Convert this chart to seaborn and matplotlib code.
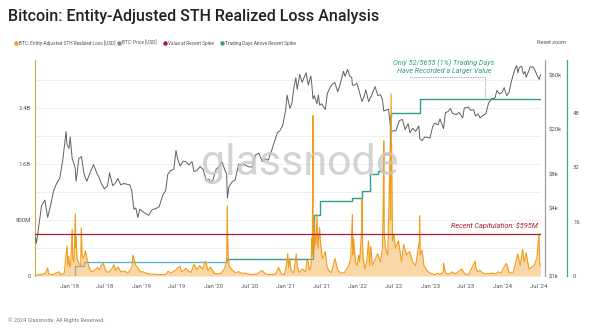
import matplotlib
matplotlib.use("Agg")
import matplotlib.pyplot as plt
import matplotlib.ticker as mticker
import pandas as pd
import seaborn as sns

sns.set_theme(style="white")
plt.rcParams["font.family"] = ["Roboto", "DejaVu Sans"]

# ---------------- data ----------------
price_dates = [
    "2017-07-15", "2017-07-20", "2017-08-01", "2017-08-15", "2017-09-01", "2017-09-15", "2017-10-01", "2017-10-15",
    "2017-11-01", "2017-11-15", "2017-12-01", "2017-12-17", "2017-12-22", "2018-01-01", "2018-01-07", "2018-01-17",
    "2018-02-01", "2018-02-06", "2018-02-20", "2018-03-05", "2018-03-18", "2018-04-01", "2018-04-15", "2018-05-05",
    "2018-05-20", "2018-06-01", "2018-06-15", "2018-06-29", "2018-07-15", "2018-07-25", "2018-08-10", "2018-08-25",
    "2018-09-05", "2018-09-20", "2018-10-05", "2018-10-20", "2018-11-05", "2018-11-15", "2018-11-25", "2018-12-05",
    "2018-12-15", "2018-12-25",
    "2019-01-10", "2019-01-25", "2019-02-08", "2019-02-25", "2019-03-15", "2019-04-02", "2019-04-20", "2019-05-05",
    "2019-05-15", "2019-05-30", "2019-06-15", "2019-06-26", "2019-07-05", "2019-07-17", "2019-08-01", "2019-08-15",
    "2019-08-30", "2019-09-15", "2019-09-25", "2019-10-10", "2019-10-26", "2019-11-10", "2019-11-25", "2019-12-10",
    "2019-12-18", "2019-12-31",
    "2020-01-15", "2020-02-01", "2020-02-13", "2020-02-28", "2020-03-08", "2020-03-12", "2020-03-20", "2020-04-05",
    "2020-04-20", "2020-05-08", "2020-05-20", "2020-06-05", "2020-06-25", "2020-07-15", "2020-08-01", "2020-08-18",
    "2020-09-05", "2020-09-20", "2020-10-05", "2020-10-21", "2020-11-05", "2020-11-20", "2020-12-01", "2020-12-16",
    "2020-12-31",
    "2021-01-08", "2021-01-22", "2021-02-01", "2021-02-10", "2021-02-21", "2021-02-28", "2021-03-13", "2021-03-25",
    "2021-04-14", "2021-04-25", "2021-05-08", "2021-05-13", "2021-05-19", "2021-05-26", "2021-06-08", "2021-06-15",
    "2021-06-22", "2021-07-01", "2021-07-20", "2021-07-31", "2021-08-14", "2021-08-22", "2021-09-06", "2021-09-21",
    "2021-10-01", "2021-10-20", "2021-10-28", "2021-11-10", "2021-11-20", "2021-12-01", "2021-12-04", "2021-12-15",
    "2021-12-27",
    "2022-01-10", "2022-01-22", "2022-02-01", "2022-02-10", "2022-02-24", "2022-03-10", "2022-03-29", "2022-04-12",
    "2022-04-25", "2022-05-05", "2022-05-12", "2022-05-25", "2022-06-05", "2022-06-18", "2022-06-30", "2022-07-12",
    "2022-07-30", "2022-08-14", "2022-08-28", "2022-09-12", "2022-09-21", "2022-10-05", "2022-10-20", "2022-11-05",
    "2022-11-10", "2022-11-21", "2022-12-05", "2022-12-20", "2022-12-31",
    "2023-01-14", "2023-01-25", "2023-02-10", "2023-02-20", "2023-03-10", "2023-03-20", "2023-04-01", "2023-04-14",
    "2023-04-25", "2023-05-12", "2023-05-28", "2023-06-15", "2023-06-23", "2023-07-13", "2023-07-25", "2023-08-10",
    "2023-08-18", "2023-09-01", "2023-09-11", "2023-09-25", "2023-10-10", "2023-10-24", "2023-11-10", "2023-11-25",
    "2023-12-05", "2023-12-18", "2023-12-31",
    "2024-01-11", "2024-01-23", "2024-02-05", "2024-02-15", "2024-02-28", "2024-03-05", "2024-03-14", "2024-03-20",
    "2024-03-27", "2024-04-08", "2024-04-17", "2024-04-25", "2024-05-01", "2024-05-15", "2024-05-21", "2024-06-05",
    "2024-06-15", "2024-06-24", "2024-07-05", "2024-07-14",
]
price_vals = [
    2200, 1950, 2750, 4200, 4700, 3300, 4300, 5700,
    6700, 7300, 10800, 19000, 14500, 13500, 17000, 11000,
    9100, 6900, 11000, 11400, 8000, 6900, 8000, 9700,
    8300, 7500, 6500, 5900, 6300, 8200, 6300, 6700,
    7300, 6400, 6600, 6500, 6400, 5600, 3900, 4000,
    3300, 3900,
    3700, 3550, 3450, 3850, 3950, 4100, 5200, 5700,
    7900, 8600, 8800, 12900, 10800, 9400, 10400, 10300,
    9600, 10300, 8400, 8600, 9300, 8800, 7100, 7200,
    6700, 7200,
    8800, 9400, 10300, 8700, 8000, 4900, 6200, 6800,
    7100, 9800, 9500, 9700, 9300, 9200, 11800, 12200,
    10300, 10900, 10600, 12800, 15500, 18600, 19200, 21300,
    29000,
    40000, 30500, 33500, 44800, 57000, 45000, 61000, 52000,
    63000, 49000, 58800, 49500, 37000, 39500, 33500, 40100,
    32500, 33500, 29800, 41500, 47000, 49300, 51700, 42800,
    48200, 65000, 58500, 67500, 59000, 57000, 49000, 48900,
    51000,
    41800, 35000, 38700, 44500, 35000, 39300, 47500, 39500,
    40400, 36500, 28900, 29500, 29900, 19000, 19300, 19300,
    23800, 24300, 19800, 22300, 18500, 20300, 19100, 21300,
    16500, 15800, 17000, 16900, 16600,
    20900, 22600, 21800, 24600, 20200, 28000, 28500, 30400,
    27500, 26800, 28000, 25100, 30700, 31400, 29300, 29600,
    26100, 27200, 25100, 26300, 27400, 34000, 37300, 37500,
    44000, 41000, 42300,
    46500, 39500, 42600, 52000, 62400, 68000, 73000, 63000,
    70000, 72000, 61300, 64500, 57500, 66200, 71000, 71000,
    66000, 60500, 55000, 60800,
]

loss_dates = [
    "2017-07-15", "2017-08-01", "2017-08-20", "2017-09-05", "2017-09-15", "2017-09-20", "2017-10-10", "2017-11-12",
    "2017-11-20", "2017-12-08", "2017-12-22", "2017-12-26", "2017-12-30",
    "2018-01-05", "2018-01-10", "2018-01-17", "2018-01-20", "2018-01-26", "2018-02-02", "2018-02-04", "2018-02-06",
    "2018-02-10", "2018-02-20", "2018-03-01", "2018-03-04", "2018-03-08", "2018-03-15", "2018-03-25", "2018-04-05",
    "2018-04-15", "2018-04-25", "2018-05-10", "2018-05-25", "2018-06-05", "2018-06-12", "2018-06-24", "2018-07-05",
    "2018-07-20", "2018-08-10", "2018-08-15", "2018-08-25", "2018-09-06", "2018-09-20", "2018-10-10", "2018-10-25",
    "2018-11-15", "2018-11-20", "2018-11-25", "2018-12-05", "2018-12-15", "2018-12-28",
    "2019-01-10", "2019-01-25", "2019-02-10", "2019-03-01", "2019-03-20", "2019-04-10", "2019-05-05", "2019-05-17",
    "2019-06-01", "2019-06-27", "2019-07-02", "2019-07-16", "2019-07-25", "2019-08-05", "2019-08-15", "2019-08-29",
    "2019-09-10", "2019-09-25", "2019-10-10", "2019-10-23", "2019-11-08", "2019-11-22", "2019-12-05", "2019-12-18",
    "2020-01-05", "2020-01-20", "2020-02-10", "2020-02-27", "2020-03-08", "2020-03-12", "2020-03-13", "2020-03-16",
    "2020-03-20", "2020-04-01", "2020-04-20", "2020-05-10", "2020-05-20", "2020-06-10", "2020-07-01", "2020-07-20",
    "2020-08-10", "2020-09-03", "2020-09-20", "2020-10-10", "2020-11-10", "2020-11-26", "2020-12-10", "2020-12-25",
    "2021-01-04", "2021-01-11", "2021-01-15", "2021-01-21", "2021-01-28", "2021-02-10", "2021-02-23", "2021-02-28",
    "2021-03-10", "2021-03-25", "2021-04-12", "2021-04-18", "2021-04-25", "2021-05-01", "2021-05-10", "2021-05-12",
    "2021-05-15", "2021-05-19", "2021-05-20", "2021-05-23", "2021-05-25", "2021-05-28", "2021-06-03", "2021-06-08",
    "2021-06-13", "2021-06-21", "2021-06-27", "2021-07-05", "2021-07-15", "2021-07-20", "2021-07-28", "2021-08-05",
    "2021-08-20", "2021-09-07", "2021-09-20", "2021-10-05", "2021-10-25", "2021-11-16", "2021-11-26", "2021-12-04",
    "2021-12-06", "2021-12-10", "2021-12-20", "2021-12-28",
    "2022-01-05", "2022-01-10", "2022-01-21", "2022-01-22", "2022-01-24", "2022-01-28", "2022-02-05", "2022-02-14",
    "2022-02-24", "2022-03-01", "2022-03-07", "2022-03-15", "2022-04-11", "2022-04-25", "2022-05-05", "2022-05-09",
    "2022-05-12", "2022-05-14", "2022-05-20", "2022-06-01", "2022-06-13", "2022-06-15", "2022-06-18", "2022-06-25",
    "2022-07-01", "2022-07-10", "2022-07-25", "2022-08-10", "2022-08-20", "2022-09-05", "2022-09-20", "2022-10-05",
    "2022-10-20", "2022-11-08", "2022-11-09", "2022-11-12", "2022-11-21", "2022-12-01", "2022-12-15", "2022-12-28",
    "2023-01-10", "2023-01-25", "2023-02-10", "2023-02-20", "2023-03-09", "2023-03-10", "2023-03-20", "2023-04-10",
    "2023-04-20", "2023-05-10", "2023-06-10", "2023-06-25", "2023-07-15", "2023-08-17", "2023-08-20", "2023-08-30",
    "2023-09-10", "2023-09-25", "2023-10-15", "2023-11-10", "2023-12-01", "2023-12-10", "2023-12-25",
    "2024-01-12", "2024-01-22", "2024-02-05", "2024-02-25", "2024-03-19", "2024-04-01", "2024-04-13", "2024-04-20",
    "2024-05-01", "2024-05-15", "2024-06-10", "2024-06-24", "2024-07-05", "2024-07-08", "2024-07-12",
]
loss_vals = [  # USD millions
    10, 20, 25, 40, 115, 30, 20, 60,
    20, 40, 430, 150, 280,
    120, 200, 670, 250, 200, 890, 400, 560,
    250, 180, 150, 690, 300, 250, 360, 200,
    100, 60, 80, 120, 90, 150, 180, 80,
    50, 120, 160, 80, 130, 60, 70, 40,
    120, 300, 250, 150, 120, 60,
    60, 40, 30, 25, 20, 20, 20, 70,
    40, 90, 110, 140, 60, 80, 110, 70,
    50, 170, 90, 150, 100, 215, 80, 130,
    40, 30, 40, 110, 220, 1000, 600, 300,
    150, 100, 50, 60, 40, 40, 25, 20,
    30, 80, 30, 20, 25, 120, 30, 20,
    150, 320, 120, 250, 80, 40, 315, 150,
    50, 100, 60, 230, 200, 80, 150, 540,
    300, 2290, 500, 790, 400, 600, 450, 880,
    400, 690, 450, 250, 300, 350, 150, 80,
    50, 250, 100, 40, 50, 150, 250, 880,
    300, 540, 200, 150,
    300, 200, 700, 1100, 500, 250, 100, 200,
    500, 150, 420, 150, 320, 200, 400, 1000,
    1930, 600, 400, 300, 1800, 800, 2600, 500,
    600, 400, 500, 200, 450, 300, 350, 200,
    150, 500, 860, 300, 370, 150, 80, 50,
    30, 20, 40, 20, 60, 185, 40, 25,
    60, 30, 100, 30, 20, 215, 120, 60,
    80, 40, 30, 40, 30, 60, 40,
    140, 180, 50, 40, 315, 150, 385, 200,
    330, 100, 150, 250, 595, 200, 150,
]

count_dates = ["2017-07-15", "2018-02-01", "2018-03-20", "2020-03-12", "2021-05-19", "2021-05-24",
               "2021-06-21", "2021-12-04", "2022-01-22", "2022-03-05", "2022-04-15", "2022-05-09",
               "2022-06-13", "2022-06-18", "2022-11-09", "2024-07-12"]
count_vals = [0, 3, 4, 5, 10, 18, 22, 23, 25, 30, 31, 36, 47, 48, 52, 52]

recent_spike = 595  # USD millions

x_tick_dates = ["2018-01-01", "2018-07-01", "2019-01-01", "2019-07-01", "2020-01-01", "2020-07-01", "2021-01-01",
                "2021-07-01", "2022-01-01", "2022-07-01", "2023-01-01", "2023-07-01", "2024-01-01", "2024-07-01"]
x_tick_labels = ["Jan '18", "Jul '18", "Jan '19", "Jul '19", "Jan '20", "Jul '20", "Jan '21",
                 "Jul '21", "Jan '22", "Jul '22", "Jan '23", "Jul '23", "Jan '24", "Jul '24"]
loss_ticks = [0, 800, 1600, 2400]
loss_tick_labels = ["0", "800M", "1.6B", "2.4B"]
price_ticks = [1000, 4000, 8000, 20000, 60000]
price_tick_labels = ["$1k", "$4k", "$8k", "$20k", "$60k"]
count_ticks = [0, 16, 32, 48]
count_tick_labels = ["0", "16", "32", "48"]

# ---------------- frames ----------------
loss_df = pd.DataFrame({"date": pd.to_datetime(loss_dates), "loss": loss_vals})
price_df = pd.DataFrame({"date": pd.to_datetime(price_dates), "price": price_vals})
count_df = pd.DataFrame({"date": pd.to_datetime(count_dates), "count": count_vals})

ORANGE = "#f39c1a"
GRAY = "#5f5f5f"
RED = "#a51f3d"
TEAL = "#2f9e8c"
LIGHTBLUE = "#5cb6d3"
PX = 0.72  # points per pixel at dpi 100

W, H = 600, 334
fig = plt.figure(figsize=(W / 100, H / 100), dpi=100)
fig.patch.set_facecolor("white")
L, R, T, B = 35, 541, 60, 276
ax = fig.add_axes([L / W, 1 - B / H, (R - L) / W, (B - T) / H])
ax.set_facecolor("white")

xmin, xmax = pd.Timestamp("2017-07-13"), pd.Timestamp("2024-07-15")

# Left axis: realized loss
ymax_loss = (B - T) / 56 * 800
ax.set_ylim(0, ymax_loss)
ax.set_xlim(xmin, xmax)
for g in range(400, int(ymax_loss), 400):
    ax.axhline(g, color="#ececec", lw=0.6, zorder=0)

# Price axis (log)
axp = ax.twinx()
axp.set_yscale("log")
axp.set_ylim(1000, 1000 * 2 ** ((B - T) / 34))
sns.lineplot(data=price_df, x="date", y="price", ax=axp, color=GRAY, lw=0.7, zorder=2)

# Count axis
axc = ax.twinx()
axc.set_ylim(0, (B - T) / 56 * 16 * 1.03)

# Loss fill + line
axl = ax.twinx()
axl.set_ylim(0, ymax_loss)
axl.fill_between(loss_df["date"], 0, loss_df["loss"], color="#f5a83a", alpha=0.45, lw=0, zorder=3)
sns.lineplot(data=loss_df, x="date", y="loss", ax=axl, color=ORANGE, lw=0.8, zorder=4)
axl.axhline(recent_spike, color=RED, lw=0.9, zorder=5)
axl.set_yticks([])
for s in axl.spines.values():
    s.set_visible(False)

# count step line
early = count_df[count_df["date"] <= pd.Timestamp("2020-03-12")]
late = count_df[count_df["date"] >= pd.Timestamp("2020-03-12")]
axc.step(early["date"], early["count"], where="post", color=LIGHTBLUE, lw=1.0, zorder=6)
axc.step(late["date"], late["count"], where="post", color=TEAL, lw=1.0, zorder=6)

for a in (ax, axp, axc, axl):
    a.set_xlim(xmin, xmax)
    a.set_xlabel("")
    a.set_ylabel("")

# ticks and spines
ax.set_yticks(loss_ticks)
ax.set_yticklabels(loss_tick_labels)
ax.tick_params(axis="y", labelsize=4.3, labelcolor="#555555", length=0, pad=4 * PX)
ax.set_xticks(pd.to_datetime(x_tick_dates))
ax.set_xticklabels(x_tick_labels)
ax.tick_params(axis="x", labelsize=4.3, labelcolor="#555555", length=0, pad=8 * PX)
for k in ("top", "right", "bottom"):
    ax.spines[k].set_visible(False)
ax.spines["left"].set_color("#d6a64e")
ax.spines["left"].set_linewidth(0.8)

axp.set_yticks(price_ticks)
axp.set_yticklabels(price_tick_labels)
axp.yaxis.set_minor_locator(mticker.NullLocator())
axp.tick_params(axis="y", which="both", labelsize=4.3, labelcolor="#555555", length=0, pad=4 * PX)
for k in ("top", "left", "bottom"):
    axp.spines[k].set_visible(False)
axp.spines["right"].set_position(("outward", 4 * PX))
axp.spines["right"].set_color("#a0a0a0")
axp.spines["right"].set_linewidth(0.9)

axc.set_yticks(count_ticks)
axc.set_yticklabels(count_tick_labels)
axc.tick_params(axis="y", labelsize=4.3, labelcolor="#555555", length=0, pad=6 * PX)
for k in ("top", "left", "bottom"):
    axc.spines[k].set_visible(False)
axc.spines["right"].set_position(("outward", 26 * PX))
axc.spines["right"].set_color("#3aa597")
axc.spines["right"].set_linewidth(0.9)

# annotations
axl.text(pd.Timestamp("2024-06-28"), recent_spike + 70, "Recent Capitulation: $595M", color=RED,
         fontsize=5.2, style="italic", ha="right", va="bottom", zorder=7)
fig.text(444 / W, 1 - 63 / H, "Only 52/5655 (1%) Trading Days", color="#2f9e8c", fontsize=5.2,
         style="italic", ha="center", va="center")
fig.text(444 / W, 1 - 71 / H, "Have Recorded a Larger Value", color="#2f9e8c", fontsize=5.2,
         style="italic", ha="center", va="center")
fig.add_artist(plt.Line2D([410 / W, 485 / W], [1 - 77 / H, 1 - 77 / H], color="#555555", lw=0.5, ls=(0, (1, 1.5))))
fig.add_artist(plt.Line2D([485 / W, 485 / W], [1 - 77 / H, 1 - 97 / H], color="#555555", lw=0.5, ls=(0, (1, 1.5))))

# watermark
fig.text(300 / W, 1 - 163 / H, "glassnode", color="#c9c9c9", alpha=0.8, fontsize=31, ha="center",
         va="center", zorder=10)

# title
fig.text(8 / W, 1 - 16 / H, "Bitcoin: Entity-Adjusted STH Realized Loss Analysis", fontsize=11.5,
         fontweight="medium", color="#222222", ha="left", va="center")

# legend row
leg_items = [(16, ORANGE, "BTC: Entity-Adjusted STH Realized Loss [USD]"),
             (119, "#8a8a8a", "BTC: Price [USD]"),
             (165, RED, "Value at Recent Spike"),
             (222, TEAL, "Trading Days Above Recent Spike")]
for x0, c, lab in leg_items:
    fig.add_artist(plt.Line2D([x0 / W], [1 - 43 / H], marker="o", ms=2.2, color=c, lw=0))
    fig.text((x0 + 3) / W, 1 - 43 / H, lab, fontsize=3.4, color="#555555", ha="left", va="center")
fig.text(537 / W, 1 - 43 / H, "Reset zoom", fontsize=4, color="#555555", ha="left", va="center")
fig.text(8 / W, 1 - 320 / H, "\u00a9 2024 Glassnode. All Rights Reserved.", fontsize=4, color="#777777",
         ha="left", va="center")

fig.savefig("out.png", dpi=100, facecolor="white")
